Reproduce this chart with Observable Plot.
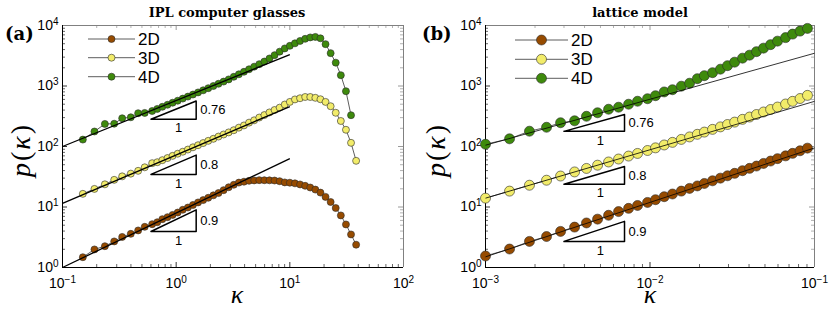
<!DOCTYPE html>
<html><head><meta charset="utf-8">
<script src="https://cdn.jsdelivr.net/npm/d3@7"></script>
<script src="https://cdn.jsdelivr.net/npm/@observablehq/plot@0.6"></script>
<style>
body{margin:0;background:#fff;}
#wrap{position:relative;width:830px;height:312px;overflow:hidden;}
#wrap > svg{position:absolute;top:0;}
</style></head><body><div id="wrap"></div>
<script>
// ---------------- data ----------------
const series = ["2D", "3D", "4D"];
const colors = ["#964B00", "#F2EC6A", "#3E8A0C"];

// panel (a): IPL computer glasses
const kappaA = [0.151, 0.191, 0.236, 0.285, 0.335, 0.399, 0.463, 0.529, 0.615, 0.682, 0.756, 0.839, 0.930, 1.031, 1.143, 1.268, 1.405, 1.558, 1.728, 1.916, 2.125, 2.356, 2.612, 2.896, 3.212, 3.561, 3.949, 4.378, 4.855, 5.383, 5.968, 6.618, 7.338, 8.137, 9.022, 10.00, 11.09, 12.30, 13.64, 15.12, 16.77, 18.59, 20.61, 22.86, 25.34, 28.10, 31.16, 34.54, 38.30];
const p2A = [1.48, 1.99, 2.25, 2.7, 3.2, 3.6, 4.1, 4.7, 5.2, 5.6, 6.3, 6.8, 7.4, 8.1, 9.0, 9.8, 10.8, 11.9, 13.0, 14.2, 15.6, 17.0, 19.0, 21.2, 23.3, 25.3, 26.2, 27.1, 27.5, 27.8, 27.7, 27.6, 27.4, 26.7, 25.5, 25.2, 24.6, 23.6, 22.4, 21.0, 19.4, 17.3, 14.7, 12.1, 9.62, 7.26, 5.15, 3.52, 2.38];
const p3A = [16.5, 19.9, 23.7, 28.1, 32.1, 35.6, 39.6, 45.3, 53, 55, 59.5, 64.5, 70, 76, 82, 89, 97, 105, 114, 124, 134, 146, 158, 171, 186, 205, 223, 248, 271, 301, 331, 366, 401, 439, 494, 546, 600, 628, 658, 658, 638, 604, 546, 463, 361, 264, 189, 115, 58];
const p4A = [130, 177, 236, 238, 293, 304, 355, 359, 386, 418, 453, 489, 529, 571, 619, 668, 723, 783, 849, 920, 1000, 1087, 1183, 1286, 1420, 1562, 1719, 1890, 2088, 2297, 2537, 2853, 3235, 3698, 4178, 4614, 5073, 5556, 6021, 6353, 6476, 6139, 4922, 3493, 2432, 1510, 820, 329];
const fitAmpA = [1.0, 11.5, 100];
const fitExp = [0.9, 0.8, 0.76];
const fitRangeA = [0.1, 10];
const triBaseA = [3.94, 34.6, 282];
const triRangeA = [0.6, 1.5];
const xTicksA = [0.1, 1, 10, 100];

// panel (b): lattice model
const kappaB = [0.00100, 0.00140, 0.00185, 0.00235, 0.00286, 0.00348, 0.00411, 0.00480, 0.00560, 0.00644, 0.00741, 0.00840, 0.00966, 0.0108, 0.0122, 0.0137, 0.0155, 0.0174, 0.0194, 0.0214, 0.0240, 0.0268, 0.0296, 0.0327, 0.0365, 0.0403, 0.0444, 0.0490, 0.0541, 0.0596, 0.0667, 0.0736, 0.0817, 0.0906];
const p2B = [1.55, 2.02, 2.70, 3.25, 3.95, 4.65, 5.45, 6.3, 7.3, 8.4, 9.5, 10.6, 11.9, 13.2, 14.8, 16.4, 18.3, 20.3, 22.3, 24.5, 27.1, 30.0, 32.8, 36.0, 39.8, 43.5, 47.5, 52.5, 57.5, 63, 70, 77, 85, 94];
const p3B = [14.0, 18.3, 22.9, 27.7, 32.5, 38.0, 43.4, 49.1, 55.5, 62.1, 69.5, 76.8, 85.9, 95, 106, 117, 131, 144, 159, 173, 192, 211, 231, 253, 281, 307, 338, 372, 409, 449, 504, 558, 621, 700];
const p4B = [109, 134, 179, 208, 247, 266, 316, 361, 413, 446, 500, 560, 616, 691, 798, 868, 993, 1112, 1321, 1482, 1660, 1897, 2168, 2478, 2885, 3236, 3697, 4225, 4828, 5517, 6304, 7203, 8074, 8954];
const fitAmpB = [1.5, 14, 105];
const fitRangeB = [0.001, 0.1];
const triBaseB = [2.7, 23.7, 178];
const triRangeB = [0.003, 0.007];
const xTicksB = [0.001, 0.01, 0.1];

const yTicks = [1, 10, 100, 1000, 10000];

// ---------------- drawing ----------------
const W = 415, H = 312, MT = 25, MB = 45;
const fmt = d => "10^" + Math.round(Math.log10(d));
const SANS = "'Liberation Sans', Arial, sans-serif";

function minorTicks(majors) {
  const out = [];
  for (let i = 0; i < majors.length - 1; i++) for (let m = 2; m <= 9; m++) out.push(majors[i] * m);
  return out;
}

function panel(o) {
  const fw = W - o.ml - o.mr, fh = H - MT - MB;
  const ps = o.ps;
  const rows = series.flatMap((s, j) => ps[j].map((p, i) => ({k: o.kappa[i], p, s})));
  const fits = series.map((s, j) => ({
    x1: o.fitRange[0], y1: o.fitAmp[j],
    x2: o.fitRange[1], y2: o.fitAmp[j] * Math.pow(o.fitRange[1] / o.fitRange[0], fitExp[j])
  }));
  const [a, b] = o.triRange;
  const tri = series.flatMap((s, j) => {
    const base = o.triBase[j], top = base * Math.pow(b / a, fitExp[j]);
    return [{x: a, y: base, id: j}, {x: b, y: top, id: j}, {x: b, y: base, id: j}, {x: a, y: base, id: j}];
  });
  const slopeLab = series.map((s, j) => ({x: b, y: o.triBase[j] * Math.pow(b / a, fitExp[j] / 2), t: String(fitExp[j])}));
  const oneLab = series.map((s, j) => ({x: (a + b) / 2, y: o.triBase[j], t: "1"}));
  const xMin = minorTicks(o.xTicks), yMin = minorTicks(yTicks);
  const xd = [o.xTicks[0], o.xTicks[o.xTicks.length - 1]];
  const frameC = "#808080";
  return Plot.plot({
    width: W, height: H, marginLeft: o.ml, marginRight: o.mr, marginTop: MT, marginBottom: MB,
    style: {fontFamily: SANS, fontSize: "14px", background: "transparent", color: "black", overflow: "visible"},
    x: {type: "log", domain: xd, ticks: o.xTicks, tickSize: 0, tickPadding: 11, tickFormat: fmt, label: null},
    y: {type: "log", domain: [1, 1e4], ticks: yTicks, tickSize: 0, tickPadding: 4, tickFormat: fmt, label: null},
    color: {domain: series, range: colors},
    marks: [
      // inward ticks
      Plot.ruleX(o.xTicks, {insetTop: fh - 5, stroke: "black", strokeWidth: 0.8}),
      Plot.ruleX(xMin, {insetTop: fh - 3, stroke: "black", strokeWidth: 0.6}),
      Plot.ruleX(o.xTicks, {insetBottom: fh - 5, stroke: frameC, strokeWidth: 0.8}),
      Plot.ruleX(xMin, {insetBottom: fh - 3, stroke: frameC, strokeWidth: 0.6}),
      Plot.ruleY(yTicks, {insetRight: fw - 5, stroke: "black", strokeWidth: 0.8}),
      Plot.ruleY(yMin, {insetRight: fw - 3, stroke: "black", strokeWidth: 0.6}),
      Plot.ruleY(yTicks, {insetLeft: fw - 5, stroke: frameC, strokeWidth: 0.8}),
      Plot.ruleY(yMin, {insetLeft: fw - 3, stroke: frameC, strokeWidth: 0.6}),
      // frame
      Plot.ruleY([1e4], {stroke: frameC, strokeWidth: 1}),
      Plot.ruleX([xd[1]], {stroke: frameC, strokeWidth: 1}),
      Plot.ruleY([1], {stroke: "black", strokeWidth: 1}),
      Plot.ruleX([xd[0]], {stroke: "black", strokeWidth: 1}),
      // data
      Plot.line(rows, {x: "k", y: "p", z: "s", stroke: "#333", strokeWidth: 0.8}),
      Plot.dot(rows, {x: "k", y: "p", fill: "s", stroke: "#2a2a2a", strokeWidth: 0.6, r: o.r}),
      // power-law fits
      Plot.link(fits, {x1: "x1", y1: "y1", x2: "x2", y2: "y2", stroke: "black", strokeWidth: o.fitW}),
      // slope triangles
      Plot.line(tri, {x: "x", y: "y", z: "id", stroke: "black", strokeWidth: 1.5}),
      Plot.text(slopeLab, {x: "x", y: "y", text: "t", dx: 4, textAnchor: "start", fontSize: 13}),
      Plot.text(oneLab, {x: "x", y: "y", text: "t", dy: 9, fontSize: 13})
    ]
  });
}

function decorate(svg, o) {
  const s = d3.select(svg);
  // superscript tick labels
  s.selectAll("text").each(function () {
    const m = /^10\^(-?\d+)$/.exec(this.textContent);
    if (!m) return;
    const t = d3.select(this);
    t.text(null);
    t.append("tspan").text("10");
    t.append("tspan").attr("dy", "-0.5em").attr("font-size", "10px").text(m[1].replace("-", "\u2212"));
  });
  // title
  s.append("text").attr("x", o.titleX).attr("y", 17).attr("text-anchor", "middle")
    .attr("font-family", "'DejaVu Serif', serif").attr("font-weight", "bold").attr("font-size", "13px")
    .text(o.title);
  // panel tag
  s.append("text").attr("x", o.tagX).attr("y", 40).attr("text-anchor", "start")
    .attr("font-family", "'DejaVu Serif', serif").attr("font-weight", "bold").attr("font-size", "18px")
    .text(o.tag);
  // y label
  const yl = s.append("text").attr("transform", `translate(${o.ylX},150) rotate(-90)`)
    .attr("text-anchor", "middle").attr("font-family", "'Liberation Serif', serif").attr("font-size", "28px")
    .attr("letter-spacing", "2px");
  yl.append("tspan").attr("font-style", "italic").text("p");
  yl.append("tspan").text("(");
  yl.append("tspan").attr("font-style", "italic").text("\u03ba");
  yl.append("tspan").text(")");
  // x label
  s.append("text").attr("x", o.xlX).attr("y", 303).attr("text-anchor", "middle")
    .attr("font-family", "'Liberation Serif', serif").attr("font-style", "italic").attr("font-size", "26px")
    .text("\u03ba");
  // legend
  const g = s.append("g");
  series.forEach((name, j) => {
    const y = o.legY[j];
    g.append("line").attr("x1", o.legX1).attr("x2", o.legX2).attr("y1", y).attr("y2", y)
      .attr("stroke", "#333").attr("stroke-width", 0.8);
    g.append("circle").attr("cx", (o.legX1 + o.legX2) / 2).attr("cy", y).attr("r", o.r)
      .attr("fill", colors[j]).attr("stroke", "#2a2a2a").attr("stroke-width", 0.6);
    g.append("text").attr("x", o.legX2 + 3).attr("y", y).attr("dy", "0.36em").attr("text-anchor", "start")
      .attr("font-family", SANS).attr("font-size", "17px")
      .text(name);
  });
}

const wrap = document.getElementById("wrap");

const svgA = panel({kappa: kappaA, ps: [p2A, p3A, p4A], fitAmp: fitAmpA, fitRange: fitRangeA,
  triBase: triBaseA, triRange: triRangeA, xTicks: xTicksA, ml: 62, mr: 12, r: 3.5, fitW: 1.3});
svgA.style.left = "0px";
wrap.appendChild(svgA);
decorate(svgA, {title: "IPL computer glasses", titleX: 227, tag: "(a)", tagX: 5, ylX: 30, xlX: 237,
  legY: [39, 57.7, 76.7], legX1: 88, legX2: 135, r: 3.5});

const svgB = panel({kappa: kappaB, ps: [p2B, p3B, p4B], fitAmp: fitAmpB, fitRange: fitRangeB,
  triBase: triBaseB, triRange: triRangeB, xTicks: xTicksB, ml: 70, mr: 16, r: 5, fitW: 0.8});
svgB.style.left = "415px";
wrap.appendChild(svgB);
decorate(svgB, {title: "lattice model", titleX: 225, tag: "(b)", tagX: 7, ylX: 30, xlX: 235,
  legY: [40, 59.3, 78.3], legX1: 100, legX2: 153, r: 5});
</script></body></html>
